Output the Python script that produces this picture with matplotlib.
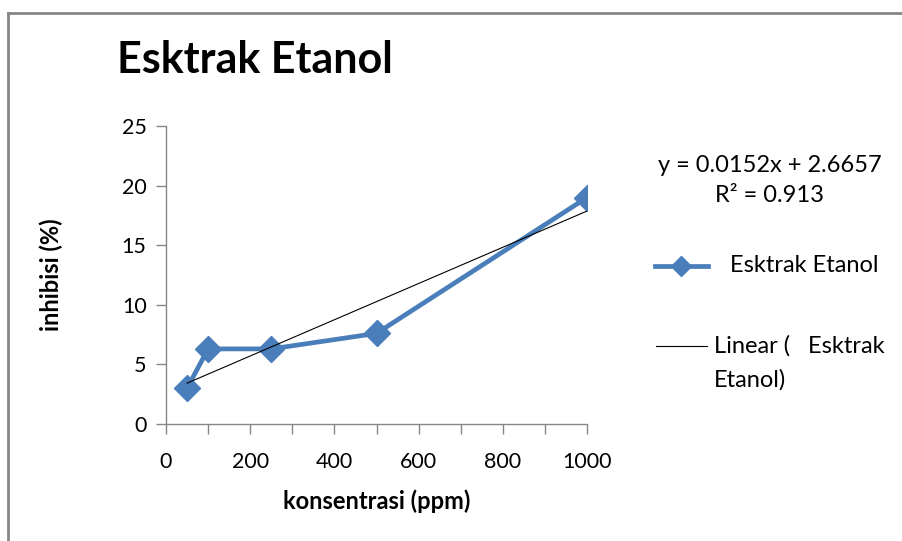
import numpy as np
import matplotlib
matplotlib.use("Agg")
import matplotlib.pyplot as plt
from matplotlib.lines import Line2D

plt.rcParams["font.family"] = ["Lato", "DejaVu Sans"]

konsentrasi = [50, 100, 250, 500, 1000]
inhibisi = [3.0, 6.3, 6.3, 7.6, 19.0]
slope, intercept = 0.0152, 2.6657
r2 = 0.913

W, H = 903, 541
fig = plt.figure(figsize=(W / 100, H / 100), dpi=100)
ax = fig.add_axes([166 / W, 1 - 424 / H, (587 - 166) / W, (424 - 126) / H])

blue = "#4a7ebb"
grey = "#868686"
ax.plot(konsentrasi, inhibisi, color=blue, lw=3.4, marker="D", ms=13, zorder=2)
xt = np.array([konsentrasi[0], konsentrasi[-1]])
ax.plot(xt, slope * xt + intercept, color="black", lw=0.8, zorder=3)

ax.set_xlim(0, 1000)
ax.set_ylim(0, 25)
ax.set_xticks(range(0, 1001, 200))
ax.set_xticks(range(0, 1001, 100), minor=True)
ax.set_yticks(range(0, 26, 5))
for s in ["top", "right"]:
    ax.spines[s].set_visible(False)
for s in ["left", "bottom"]:
    ax.spines[s].set_color(grey)
    ax.spines[s].set_linewidth(1.0)
ax.tick_params(axis="both", which="both", color=grey, length=7, width=1.0,
               labelsize=15.5, labelcolor="black")
ax.tick_params(axis="x", which="major", pad=13)
ax.tick_params(axis="y", pad=7)

ax.set_xlabel("konsentrasi (ppm)", fontsize=17, fontweight="bold", labelpad=13)
ax.set_ylabel("inhibisi (%)", fontsize=17, fontweight="bold", labelpad=42)

fig.text(117 / W, 1 - 60 / H, "Esktrak Etanol", fontsize=31, fontweight="bold",
         va="center", ha="left")

# chart frame (cropped)
fig.add_artist(Line2D([8 / W, 8 / W], [0, 1 - 13 / H], transform=fig.transFigure,
                      color=grey, lw=2))
fig.add_artist(Line2D([8 / W, 1], [1 - 13 / H, 1 - 13 / H], transform=fig.transFigure,
                      color=grey, lw=2))

# trendline equation
fig.text(770 / W, 1 - 165 / H, f"y = {slope}x + {intercept}", fontsize=17,
         ha="center", va="center")
fig.text(770 / W, 1 - 196 / H, f"R² = {r2}", fontsize=17,
         ha="center", va="center")

# legend
fig.add_artist(Line2D([655 / W, 708 / W], [1 - 266 / H] * 2, transform=fig.transFigure,
                      color=blue, lw=3.4))
fig.add_artist(Line2D([681 / W], [1 - 266 / H], transform=fig.transFigure,
                      color=blue, marker="D", ms=10))
fig.text(730 / W, 1 - 266 / H, "Esktrak Etanol", fontsize=17, va="center", ha="left")
fig.add_artist(Line2D([656 / W, 707 / W], [1 - 346 / H] * 2, transform=fig.transFigure,
                      color="black", lw=0.8))
fig.text(714 / W, 1 - 346 / H, "Linear (   Esktrak", fontsize=17, va="center", ha="left")
fig.text(714 / W, 1 - 380 / H, "Etanol)", fontsize=17, va="center", ha="left")

fig.savefig("out.png", dpi=100)
